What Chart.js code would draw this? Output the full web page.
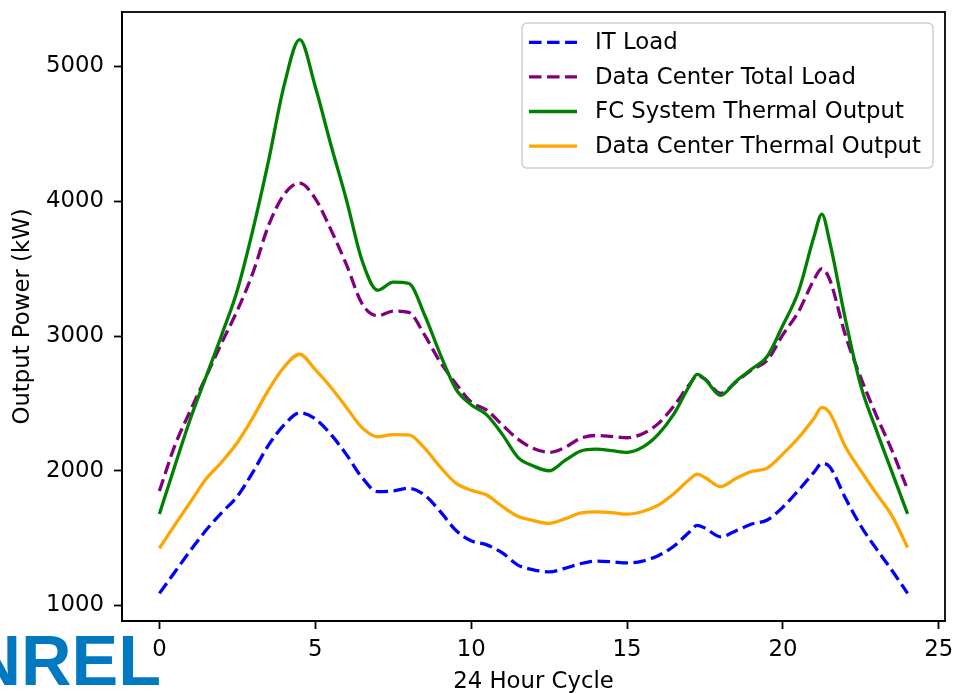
<!DOCTYPE html>
<html>
<head>
<meta charset="utf-8">
<script src="https://cdn.jsdelivr.net/npm/chart.js@4/dist/chart.umd.min.js"></script>
<style>
  html, body { margin: 0; padding: 0; background: #ffffff; }
  #wrap { width: 953px; height: 693px; position: relative; }
</style>
</head>
<body>
<div id="wrap"><canvas id="c" width="953" height="693"></canvas></div>
<script>
// ---- data ----
const hours = [0,0.5,1,1.5,2,2.5,3,3.5,4,4.5,5,5.5,6,6.5,7,7.5,8,8.5,9,9.5,10,10.5,11,11.5,12,12.5,13,13.5,14,14.5,15,15.5,16,16.5,17,17.25,17.5,18,18.5,19,19.5,20,20.5,21,21.25,21.5,22,22.5,23,23.5,24];

const itLoad = [1090,1250,1410,1560,1690,1810,1990,2190,2340,2430,2385,2270,2120,1950,1845,1850,1870,1820,1700,1560,1480,1450,1390,1300,1265,1250,1275,1310,1330,1325,1316,1330,1370,1440,1545,1595,1575,1510,1555,1605,1635,1730,1855,1990,2055,2030,1800,1590,1420,1260,1090];

const totalLoad = [1850,2190,2450,2700,2950,3190,3470,3820,4050,4135,4020,3790,3530,3240,3150,3185,3175,3010,2810,2650,2510,2450,2340,2235,2165,2137,2172,2240,2262,2255,2245,2275,2350,2480,2640,2705,2680,2575,2660,2750,2820,3010,3180,3420,3500,3420,3010,2690,2410,2150,1860];

const fcThermal = [1680,2040,2390,2700,3010,3340,3790,4300,4860,5200,4850,4420,4010,3560,3340,3400,3390,3160,2870,2610,2490,2415,2270,2100,2035,2000,2075,2145,2160,2150,2137,2175,2270,2420,2630,2715,2680,2560,2665,2755,2850,3080,3330,3740,3905,3700,3130,2630,2300,1990,1680];

const dcThermal = [1425,1600,1770,1940,2065,2210,2395,2600,2770,2865,2750,2620,2470,2320,2252,2268,2266,2170,2030,1910,1855,1820,1735,1662,1630,1610,1643,1685,1695,1690,1678,1698,1745,1830,1935,1975,1950,1882,1945,1995,2020,2125,2245,2390,2470,2430,2180,2000,1830,1665,1430];

const seriesNames = ["IT Load", "Data Center Total Load", "FC System Thermal Output", "Data Center Thermal Output"];
const xTicks = [0, 5, 10, 15, 20, 25];
const yTicks = [1000, 2000, 3000, 4000, 5000];
const xTitle = "24 Hour Cycle";
const yTitle = "Output Power (kW)";

// ---- chart ----
const FONT = "'DejaVu Sans', sans-serif";
const FS = 22.8;
Chart.defaults.font.family = FONT;
Chart.defaults.color = '#000';

const pts = arr => hours.map((h, i) => ({ x: h, y: arr[i] }));

function ds(label, arr, color, dashed, order) {
  return {
    label, data: pts(arr), borderColor: color, backgroundColor: color,
    borderWidth: 3.3, borderDash: dashed ? [12.5, 5.5] : [], borderCapStyle: 'butt',
    borderJoinStyle: 'round', pointRadius: 0, pointHoverRadius: 0,
    cubicInterpolationMode: 'monotone', fill: false, order
  };
}

const frameAndLegend = {
  id: 'frameAndLegend',
  afterDraw(chart) {
    const ctx = chart.ctx;
    const a = chart.chartArea;
    ctx.save();
    // axes frame (top & right spines)
    ctx.strokeStyle = '#000';
    ctx.lineWidth = 1.8;
    ctx.setLineDash([]);
    ctx.strokeRect(a.left, a.top, a.right - a.left, a.bottom - a.top);

    // legend
    ctx.font = FS + 'px ' + FONT;
    const dsets = chart.data.datasets;
    let maxW = 0;
    dsets.forEach(d => { maxW = Math.max(maxW, ctx.measureText(d.label).width); });
    const lineLen = 48, padL = 7, gap = 18, padR = 12;
    const boxW = padL + lineLen + gap + maxW + padR;
    const right = a.right - 12;
    const left = right - boxW;
    const top = a.top + 11;
    const rowH = 34.6;
    const boxH = 19.3 + rowH * (dsets.length - 1) + 22;
    ctx.beginPath();
    ctx.roundRect(left, top, boxW, boxH, 5);
    ctx.fillStyle = 'rgba(255,255,255,0.8)';
    ctx.fill();
    ctx.strokeStyle = '#d0d0d0';
    ctx.lineWidth = 1.5;
    ctx.stroke();
    dsets.forEach((d, i) => {
      const y = top + 19.3 + rowH * i;
      ctx.beginPath();
      ctx.strokeStyle = d.borderColor;
      ctx.lineWidth = d.borderWidth;
      ctx.setLineDash(d.borderDash || []);
      ctx.lineCap = 'butt';
      ctx.moveTo(left + padL, y);
      ctx.lineTo(left + padL + lineLen, y);
      ctx.stroke();
      ctx.setLineDash([]);
      ctx.fillStyle = '#000';
      ctx.textAlign = 'left';
      ctx.textBaseline = 'middle';
      ctx.fillText(d.label, left + padL + lineLen + gap, y + 1);
    });

    // NREL logo text (partially cut at the left edge)
    ctx.font = "bold 70px 'Liberation Sans', sans-serif";
    ctx.fillStyle = '#0079C1';
    ctx.textAlign = 'right';
    ctx.textBaseline = 'alphabetic';
    ctx.fillText('NREL', 161, 685);
    ctx.restore();
  }
};

new Chart(document.getElementById('c'), {
  type: 'line',
  data: {
    datasets: [
      ds(seriesNames[0], itLoad, '#0000ff', true, 4),
      ds(seriesNames[1], totalLoad, '#800080', true, 3),
      ds(seriesNames[2], fcThermal, '#008000', false, 2),
      ds(seriesNames[3], dcThermal, '#ffa500', false, 1)
    ]
  },
  options: {
    responsive: false,
    animation: false,
    devicePixelRatio: 1,
    layout: { padding: { top: 12, right: 8, left: 0, bottom: 0 } },
    plugins: { legend: { display: false }, tooltip: { enabled: false } },
    scales: {
      x: {
        type: 'linear', min: -1.2, max: 25.2,
        afterBuildTicks: s => { s.ticks = xTicks.map(v => ({ value: v })); },
        afterFit: s => { s.height = 72; s.paddingLeft = 0; s.paddingRight = 0; },
        grid: { display: true, drawOnChartArea: false, drawTicks: true, tickLength: 8, tickColor: '#000', tickWidth: 1.8 },
        border: { display: true, color: '#000', width: 1.8 },
        ticks: { font: { size: FS }, color: '#000', padding: 7, maxRotation: 0, callback: v => String(v) },
        title: { display: true, text: xTitle, font: { size: FS, lineHeight: 1.0 }, color: '#000', padding: { top: 0, bottom: 0 } }
      },
      y: {
        type: 'linear', min: 885, max: 5405,
        afterBuildTicks: s => { s.ticks = yTicks.map(v => ({ value: v })); },
        afterFit: s => { s.width = 122; s.paddingTop = 0; s.paddingBottom = 0; },
        grid: { display: true, drawOnChartArea: false, drawTicks: true, tickLength: 8, tickColor: '#000', tickWidth: 1.8 },
        border: { display: true, color: '#000', width: 1.8 },
        ticks: { font: { size: FS }, color: '#000', padding: 10, callback: v => String(v) },
        title: { display: true, text: yTitle, font: { size: FS }, color: '#000', padding: { top: 9, bottom: 0 } }
      }
    }
  },
  plugins: [frameAndLegend]
});
</script>
</body>
</html>
